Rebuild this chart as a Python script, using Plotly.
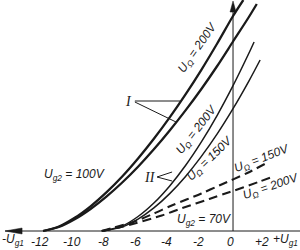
import plotly.graph_objects as go

# ---- data (Ug1 in V, Ia in arbitrary units) ----
ug1_I_a = [-12, -11, -10, -9, -8, -7, -6, -5, -4, -3, -2, -1, 0, 0.65]
ia_I_a = [0, 0.45, 1.32, 2.47, 3.86, 5.45, 7.25, 9.22, 11.36, 13.66, 16.12, 18.75, 21.5, 23.1]

ug1_I_b = [-12, -11, -10, -9, -8, -7, -6, -5, -4, -3, -2, -1, 0, 1, 1.5]
ia_I_b = [0, 0.40, 1.17, 2.20, 3.44, 4.85, 6.43, 8.17, 10.05, 12.06, 14.2, 16.5, 18.95, 21.4, 22.7]

ug1_II_a = [-8.2, -7, -6, -5, -4, -3, -2, -1, 0, 1, 1.33]
ia_II_a = [0, 0.5, 1.45, 2.8, 4.51, 6.55, 8.91, 11.57, 14.53, 17.77, 18.9]

ug1_II_b = [-8.2, -7, -6, -5, -4, -3, -2, -1, 0, 1, 1.71]
ia_II_b = [0, 0.41, 1.19, 2.31, 3.74, 5.46, 7.46, 9.71, 12.23, 14.99, 17.1]

ug1_D150 = [-8.3, -7.5, -6.3, -5, -3.8, -2, -0.8, 0.9, 2.0]
ia_D150 = [0, 0.35, 0.9, 1.75, 2.6, 3.75, 4.6, 5.8, 6.7]

ug1_D200 = [-8.3, -7.2, -6.1, -4.5, -3.2, -1.5, -0.2, 1.6, 2.45]
ia_D200 = [0, 0.35, 0.8, 1.55, 2.3, 3.2, 3.9, 4.9, 5.4]

tick_vals = [-12, -10, -8, -6, -4, -2, 0, 2]
tick_text = ["-12", "-10", "-8", "-6", "-4", "-2", "0", "+2"]

X_RANGE = [-14.72, 4.23]
Y_RANGE = [-1.9, 23.1]

INK = "#1a1a1a"
FONT = "Liberation Sans"

fig = go.Figure()


def curve(x, y, width, dash="solid"):
    fig.add_trace(go.Scatter(
        x=x, y=y, mode="lines",
        line=dict(color=INK, width=width, dash=dash, shape="spline", smoothing=0.8),
        hoverinfo="skip", showlegend=False))


curve(ug1_I_a, ia_I_a, 2.3)
curve(ug1_I_b, ia_I_b, 2.3)
curve(ug1_II_a, ia_II_a, 1.5)
curve(ug1_II_b, ia_II_b, 1.5)
curve(ug1_D150, ia_D150, 2.1, "9px,5px")
curve(ug1_D200, ia_D200, 2.1, "9px,5px")

shapes = []
# horizontal axis line
shapes.append(dict(type="line", xref="x", yref="y", x0=-14.4, x1=X_RANGE[1], y0=0, y1=0,
                   line=dict(color=INK, width=1)))
# vertical axis line
shapes.append(dict(type="line", xref="x", yref="y", x0=0, x1=0, y0=0, y1=22.4,
                   line=dict(color=INK, width=1)))
# arrow heads
shapes.append(dict(type="path", xref="x", yref="y", xsizemode="pixel", ysizemode="pixel",
                   xanchor=-14.4, yanchor=0, path="M0,0 L17,3 L17,-3 Z",
                   fillcolor=INK, line=dict(color=INK, width=0.5)))
shapes.append(dict(type="path", xref="x", yref="y", xsizemode="pixel", ysizemode="pixel",
                   xanchor=0, yanchor=23.0, path="M0,0 L-3,-11 L3,-11 Z",
                   fillcolor=INK, line=dict(color=INK, width=0.5)))
# leader lines for I and II
shapes.append(dict(type="line", xref="x", yref="y", x0=-6.2, y0=13.0, x1=-3.35, y1=13.0,
                   line=dict(color=INK, width=1)))
shapes.append(dict(type="line", xref="x", yref="y", x0=-6.2, y0=12.9, x1=-3.6, y1=10.9,
                   line=dict(color=INK, width=1)))
shapes.append(dict(type="line", xref="x", yref="y", x0=-4.8, y0=5.4, x1=-3.85, y1=5.9,
                   line=dict(color=INK, width=1)))
shapes.append(dict(type="line", xref="x", yref="y", x0=-4.8, y0=5.4, x1=-3.85, y1=5.0,
                   line=dict(color=INK, width=1)))

ann = []


def label(text, x, y, angle=0, size=12, family=FONT, style="italic", xanchor="center",
          xshift=0):
    ann.append(dict(text=text, x=x, y=y, xref="x", yref="y", showarrow=False,
                    textangle=angle, xanchor=xanchor, yanchor="middle", xshift=xshift,
                    font=dict(family=family, size=size, color=INK, style=style)))


# tick labels of the Ug1 axis, placed through the x scale
for v, t in zip(tick_vals, tick_text):
    label(t, v, -1.1, xshift=-3)

label("U<sub>g2</sub> = 100V", -10.04, 5.6)
label("U<sub>g2</sub> = 70V", -1.83, 1.1)
label("U<sub>Ω</sub> = 200V", -2.21, 18.3, angle=-55)
label("U<sub>Ω</sub> = 200V", -2.27, 10.1, angle=-52)
label("U<sub>Ω</sub> = 150V", -1.45, 7.2, angle=-44)
label("U<sub>Ω</sub> = 150V", 1.83, 7.2, angle=-21)
label("U<sub>Ω</sub> = 200V", 2.4, 4.4, angle=-19)
label("I", -6.6, 13.0, size=14, family="Liberation Serif")
label("II", -5.24, 5.4, size=14, family="Liberation Serif")
label("-U<sub>g1</sub>", -14.72, -0.9, xanchor="left")
label("+U<sub>g1</sub>", 4.2, -0.9, xanchor="right")

fig.update_layout(
    width=300, height=250,
    margin=dict(l=0, r=0, t=0, b=0),
    paper_bgcolor="white", plot_bgcolor="white",
    shapes=shapes, annotations=ann,
    xaxis=dict(range=X_RANGE, visible=False, fixedrange=True),
    yaxis=dict(range=Y_RANGE, visible=False, fixedrange=True),
)

fig.write_html("out.html", config={"displayModeBar": False, "staticPlot": True})
